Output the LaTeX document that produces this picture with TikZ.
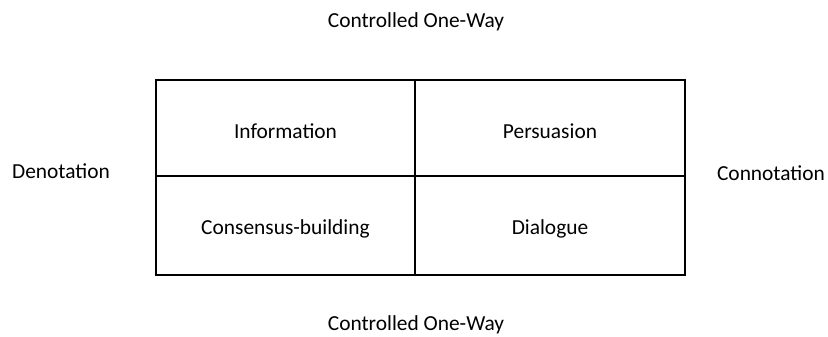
\documentclass[tikz,border=0pt]{standalone}
\usepackage{fontspec}
\setmainfont{Carlito}
\usepackage{tikz}

\tikzset{
	cell/.style={draw, line width=1.4pt, inner sep=0pt},
	lbl/.style={font=\fontsize{21.4}{25}\selectfont, inner sep=0pt}
}

\begin{document}
\begin{tikzpicture}[x=1pt,y=-1pt]
				\useasboundingbox (0,0) rectangle (828,337);
				
				% the four cells
				\foreach \n/\x/\y/\w/\h/\t in
				{info/285.5/128/259/96/Information, pers/550/128/270/96/Persuasion,
				 cons/285.5/225.5/259/99/Consensus-building, dial/550/225.5/270/99/Dialogue}{
					\node[cell, lbl, minimum width=\w pt, minimum height=\h pt] (\n) at (\x,\y) {};
					\node[lbl] (\n-t) at (\x,\y+3) {\t};
				}
				
				% axis labels
				\node[lbl] (top) at (416,22) {Controlled One-Way};
				\node[lbl] (bot) at (416,325) {Controlled One-Way};
				\node[lbl] (den) at (61,171) {Denotation};
				\node[lbl] (con) at (771,173) {Connotation};
			\end{tikzpicture}
\end{document}
